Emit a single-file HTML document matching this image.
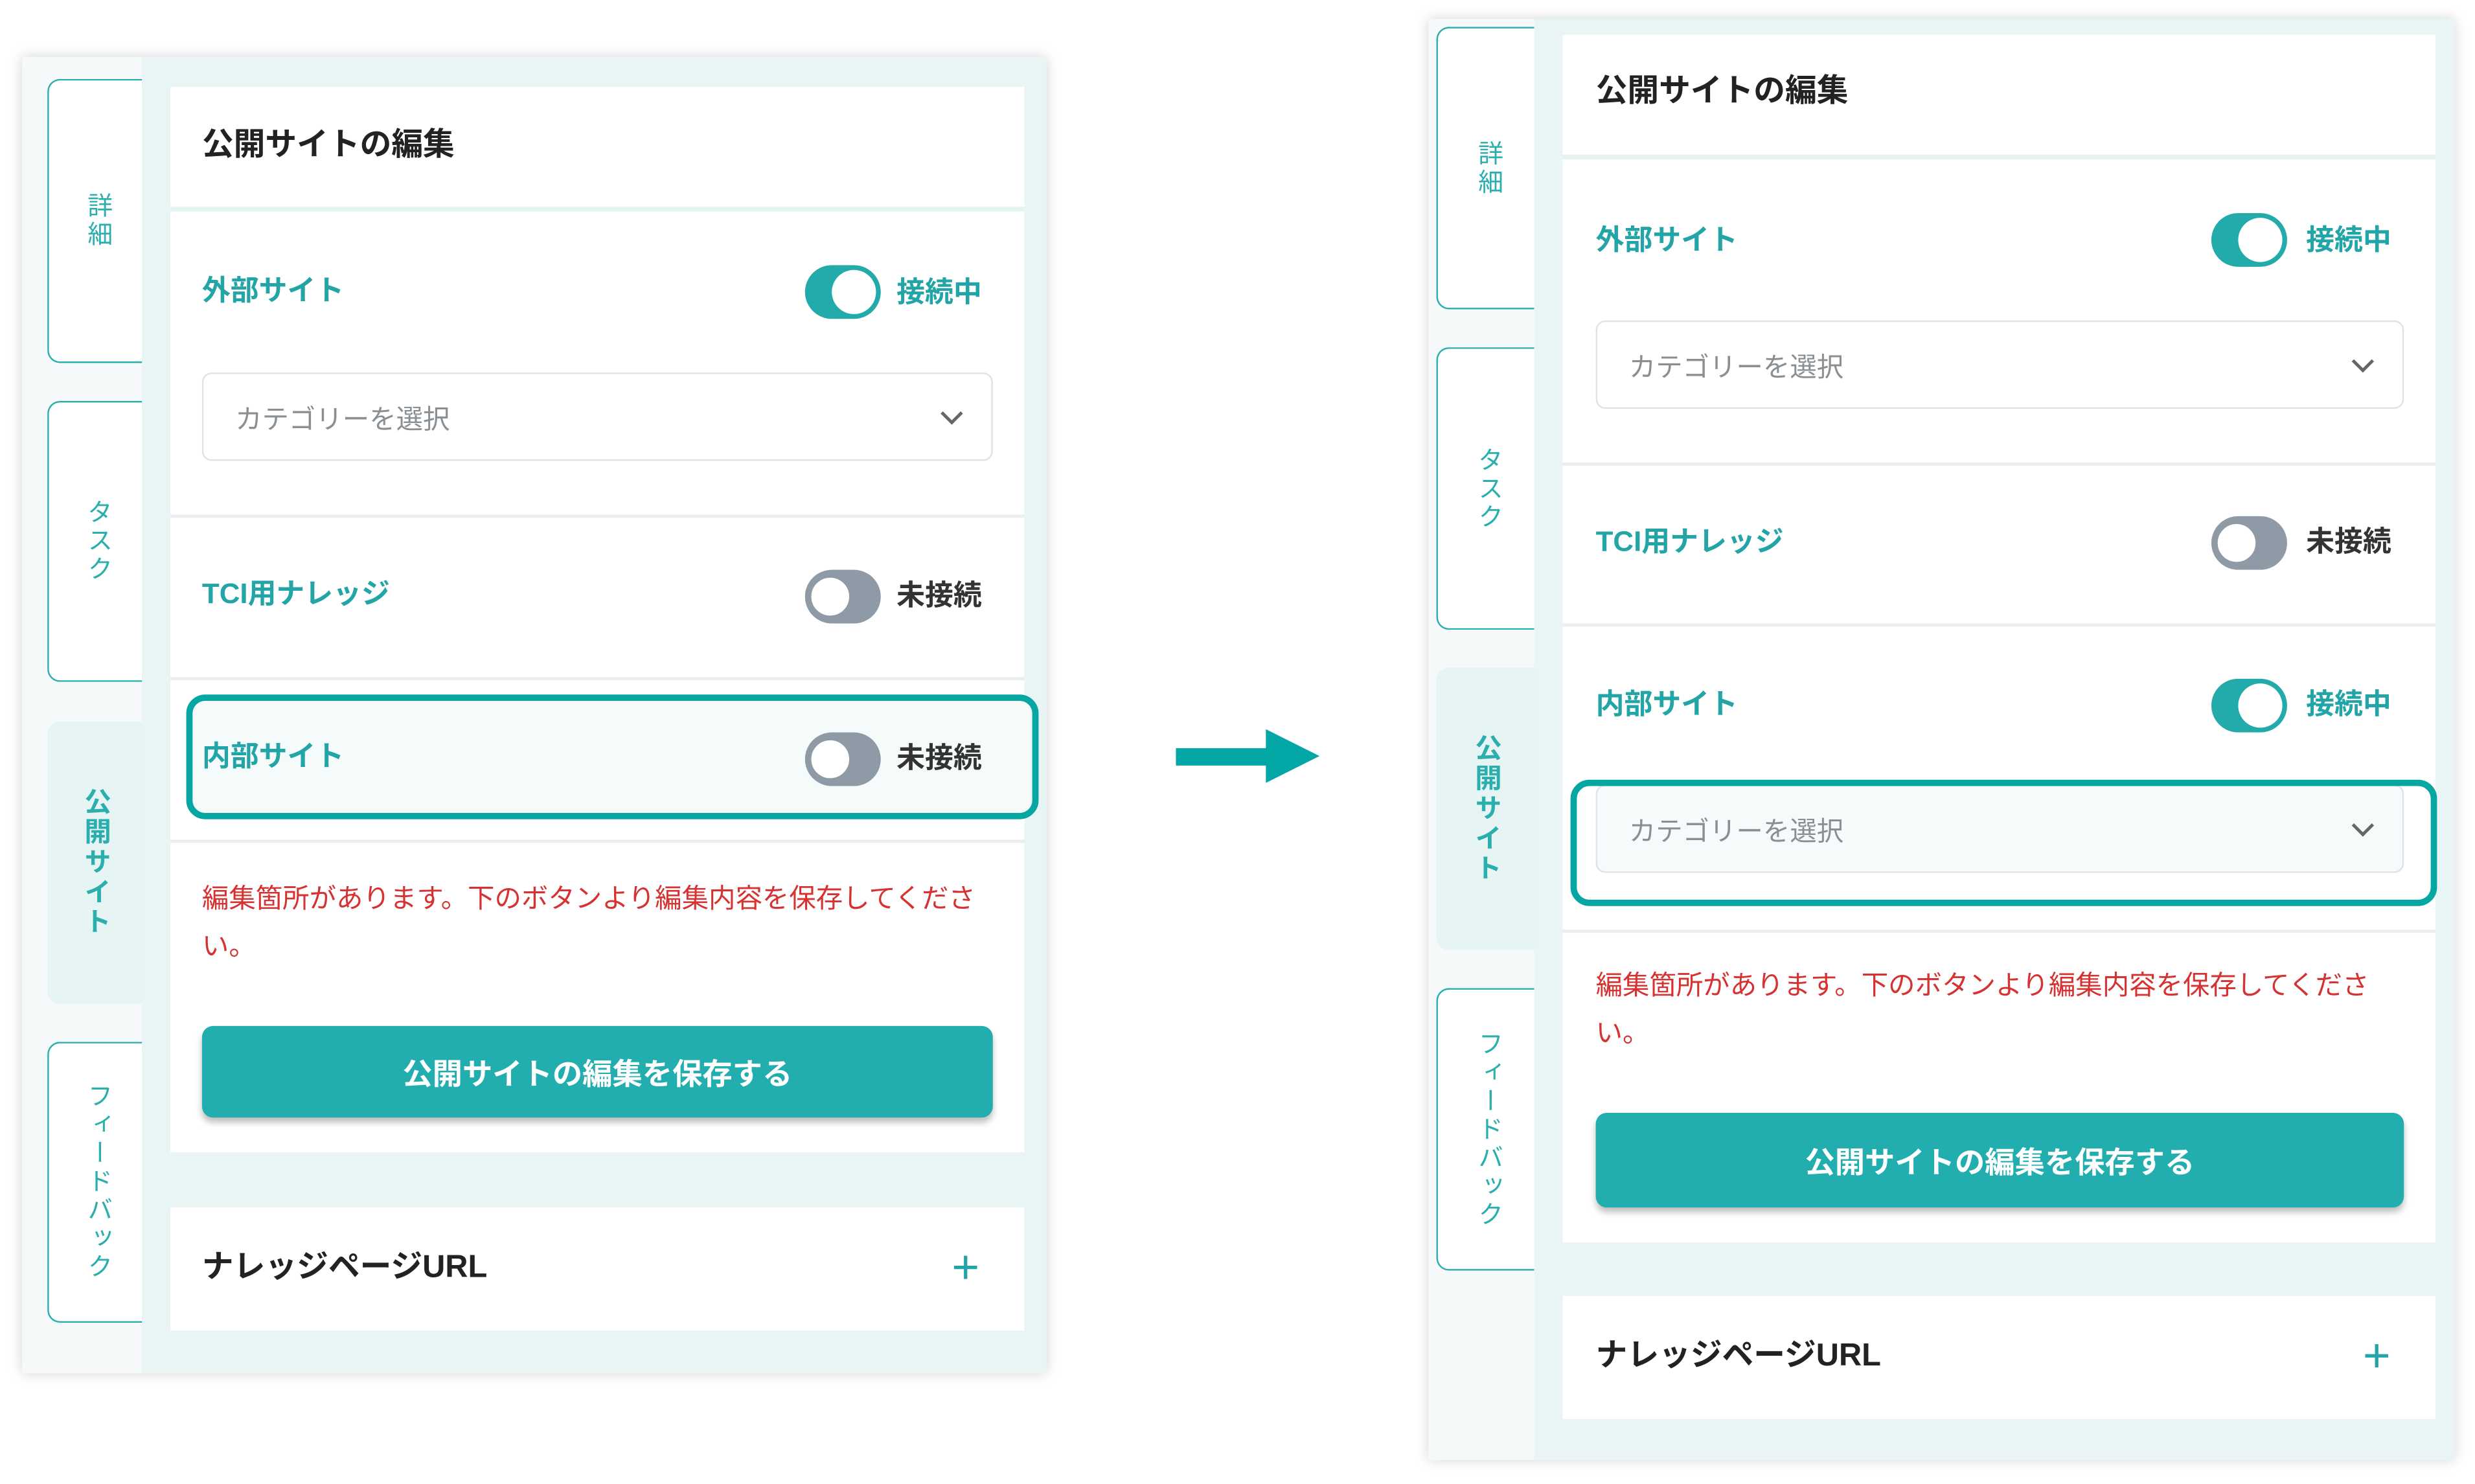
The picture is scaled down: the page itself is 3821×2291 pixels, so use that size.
<!DOCTYPE html>
<html><head><meta charset="utf-8"><style>
*{margin:0;padding:0;box-sizing:border-box}
html,body{width:3821px;height:2289px;overflow:hidden;background:#fff}
#root{position:absolute;left:0;top:0;width:1568px;height:940px;transform:scale(2.4368);transform-origin:0 0;font-family:"Liberation Sans","Noto Sans CJK JP",sans-serif}
.a{position:absolute}
.outer{position:absolute;background:#e8f5f4;box-shadow:0 0 8px rgba(0,0,0,.18)}
.side{position:absolute;left:0;top:0;bottom:0;background:#f6f9fa}
.tab{position:absolute;background:#fff;border:1.5px solid #2aaeae;border-right:none;border-radius:8px 0 0 8px;display:flex;align-items:center;justify-content:center}
.tab span{writing-mode:vertical-rl;color:#2aaeae;font-size:16px;letter-spacing:2px}
.tab.act{background:#e6f4f3;border:none}
.tab.act span{font-weight:bold;font-size:17px}
.card{position:absolute;background:#fff}
.sep{position:absolute;height:2px;background:#e9eeee}
.lbl{position:absolute;color:#23a5a7;font-weight:bold;font-size:18px;line-height:20px}
.dark{position:absolute;color:#222;font-weight:bold;font-size:20px;line-height:22px}
.tg{position:absolute;width:48px;height:34px;border-radius:17px}
.tg i{position:absolute;top:3px;width:28px;height:28px;border-radius:50%;background:#fff}
.on{background:#22abaa}.on i{right:3px}
.off{background:#8e9aa6}.off i{left:2px;border:2px solid #8e9aa6;background:#fff}
.st{position:absolute;font-weight:bold;font-size:18px;line-height:20px}
.dd{position:absolute;border:1.5px solid #dfe3e6;border-radius:6px;background:#fff}
.dd span{position:absolute;left:20px;top:50%;transform:translateY(-50%);color:#8a8f94;font-size:17px}
.dd b{position:absolute;right:20px;top:50%;width:10px;height:10px;border-right:2px solid #666;border-bottom:2px solid #666;transform:translateY(-70%) rotate(45deg)}
.red{position:absolute;color:#d63232;font-size:17px;line-height:30px}
.btn{position:absolute;background:#22adaf;border-radius:7px;box-shadow:0 3px 4px rgba(0,0,0,.25);color:#fff;font-weight:bold;font-size:19px;display:flex;align-items:center;justify-content:center}
.hl{position:absolute;border:4px solid #06a6a2;border-radius:12px}
.plus{position:absolute;color:#23a5a7;font-size:30px;line-height:30px}
</style></head><body><div id="root">

<!-- LEFT PANEL -->
<div class="outer" style="left:14px;top:36px;width:649px;height:834px">
  <div class="side" style="width:76px"></div>
  <div class="tab" style="left:16px;top:14px;width:60px;height:180px"><span>詳細</span></div>
  <div class="tab" style="left:16px;top:218px;width:60px;height:178px"><span>タスク</span></div>
  <div class="tab act" style="left:16px;top:421px;width:60px;height:179px"><span>公開サイト</span></div>
  <div class="tab" style="left:16px;top:624px;width:60px;height:178px"><span>フィードバック</span></div>
</div>
<div class="card" style="left:108px;top:55px;width:541px;height:675px"></div>
<div class="dark" style="left:128px;top:81px">公開サイトの編集</div>
<div class="sep" style="left:108px;top:131px;width:541px;background:#e3f3f2;height:3px"></div>
<div class="lbl" style="left:128px;top:174px">外部サイト</div>
<div class="tg on" style="left:510px;top:168px"><i></i></div>
<div class="st" style="left:568px;top:175px;color:#23a5a7">接続中</div>
<div class="dd" style="left:128px;top:236px;width:501px;height:56px"><span>カテゴリーを選択</span><b></b></div>
<div class="sep" style="left:108px;top:326px;width:541px"></div>
<div class="lbl" style="left:128px;top:366px">TCI用ナレッジ</div>
<div class="tg off" style="left:510px;top:361px"><i></i></div>
<div class="st" style="left:568px;top:367px;color:#333">未接続</div>
<div class="sep" style="left:108px;top:429px;width:541px"></div>
<div class="a" style="left:122px;top:444px;width:531px;height:70px;background:#f5fbfb"></div>
<div class="lbl" style="left:128px;top:469px">内部サイト</div>
<div class="tg off" style="left:510px;top:464px"><i></i></div>
<div class="st" style="left:568px;top:470px;color:#333">未接続</div>
<div class="hl" style="left:118px;top:440px;width:540px;height:79px"></div>
<div class="sep" style="left:108px;top:532px;width:541px"></div>
<div class="red" style="left:128px;top:555px;width:500px">編集箇所があります。下のボタンより編集内容を保存してください。</div>
<div class="btn" style="left:128px;top:650px;width:501px;height:58px">公開サイトの編集を保存する</div>
<div class="card" style="left:108px;top:765px;width:541px;height:78px"></div>
<div class="dark" style="left:128px;top:792px">ナレッジページURL</div>
<div class="plus" style="left:603px;top:789px">+</div>

<!-- ARROW -->
<div class="a" style="left:745px;top:474px;width:58px;height:11px;background:#03a7a5"></div>
<div class="a" style="left:802px;top:462px;width:0;height:0;border-top:17.5px solid transparent;border-bottom:17.5px solid transparent;border-left:34px solid #03a7a5"></div>

<!-- RIGHT PANEL -->
<div class="outer" style="left:905px;top:12px;width:650px;height:913px">
  <div class="side" style="width:67px"></div>
  <div class="tab" style="left:5px;top:5px;width:62px;height:179px"><span>詳細</span></div>
  <div class="tab" style="left:5px;top:208px;width:62px;height:179px"><span>タスク</span></div>
  <div class="tab act" style="left:5px;top:411px;width:62px;height:179px"><span>公開サイト</span></div>
  <div class="tab" style="left:5px;top:614px;width:62px;height:179px"><span>フィードバック</span></div>
</div>
<div class="card" style="left:990px;top:22px;width:553px;height:765px"></div>
<div class="dark" style="left:1011px;top:47px">公開サイトの編集</div>
<div class="sep" style="left:990px;top:98px;width:553px;background:#e3f3f2;height:3px"></div>
<div class="lbl" style="left:1011px;top:142px">外部サイト</div>
<div class="tg on" style="left:1401px;top:135px"><i></i></div>
<div class="st" style="left:1461px;top:142px;color:#23a5a7">接続中</div>
<div class="dd" style="left:1011px;top:203px;width:512px;height:56px"><span>カテゴリーを選択</span><b></b></div>
<div class="sep" style="left:990px;top:293px;width:553px"></div>
<div class="lbl" style="left:1011px;top:333px">TCI用ナレッジ</div>
<div class="tg off" style="left:1401px;top:327px"><i></i></div>
<div class="st" style="left:1461px;top:333px;color:#333">未接続</div>
<div class="sep" style="left:990px;top:395px;width:553px"></div>
<div class="lbl" style="left:1011px;top:436px">内部サイト</div>
<div class="tg on" style="left:1401px;top:430px"><i></i></div>
<div class="st" style="left:1461px;top:436px;color:#23a5a7">接続中</div>
<div class="dd" style="left:1011px;top:497px;width:512px;height:56px;background:#f5fbfb"><span>カテゴリーを選択</span><b></b></div>
<div class="hl" style="left:995px;top:494px;width:549px;height:80px"></div>
<div class="sep" style="left:990px;top:589px;width:553px"></div>
<div class="red" style="left:1011px;top:610px;width:510px">編集箇所があります。下のボタンより編集内容を保存してください。</div>
<div class="btn" style="left:1011px;top:705px;width:512px;height:60px">公開サイトの編集を保存する</div>
<div class="card" style="left:990px;top:821px;width:553px;height:78px"></div>
<div class="dark" style="left:1011px;top:848px">ナレッジページURL</div>
<div class="plus" style="left:1497px;top:845px">+</div>

</div></body></html>
